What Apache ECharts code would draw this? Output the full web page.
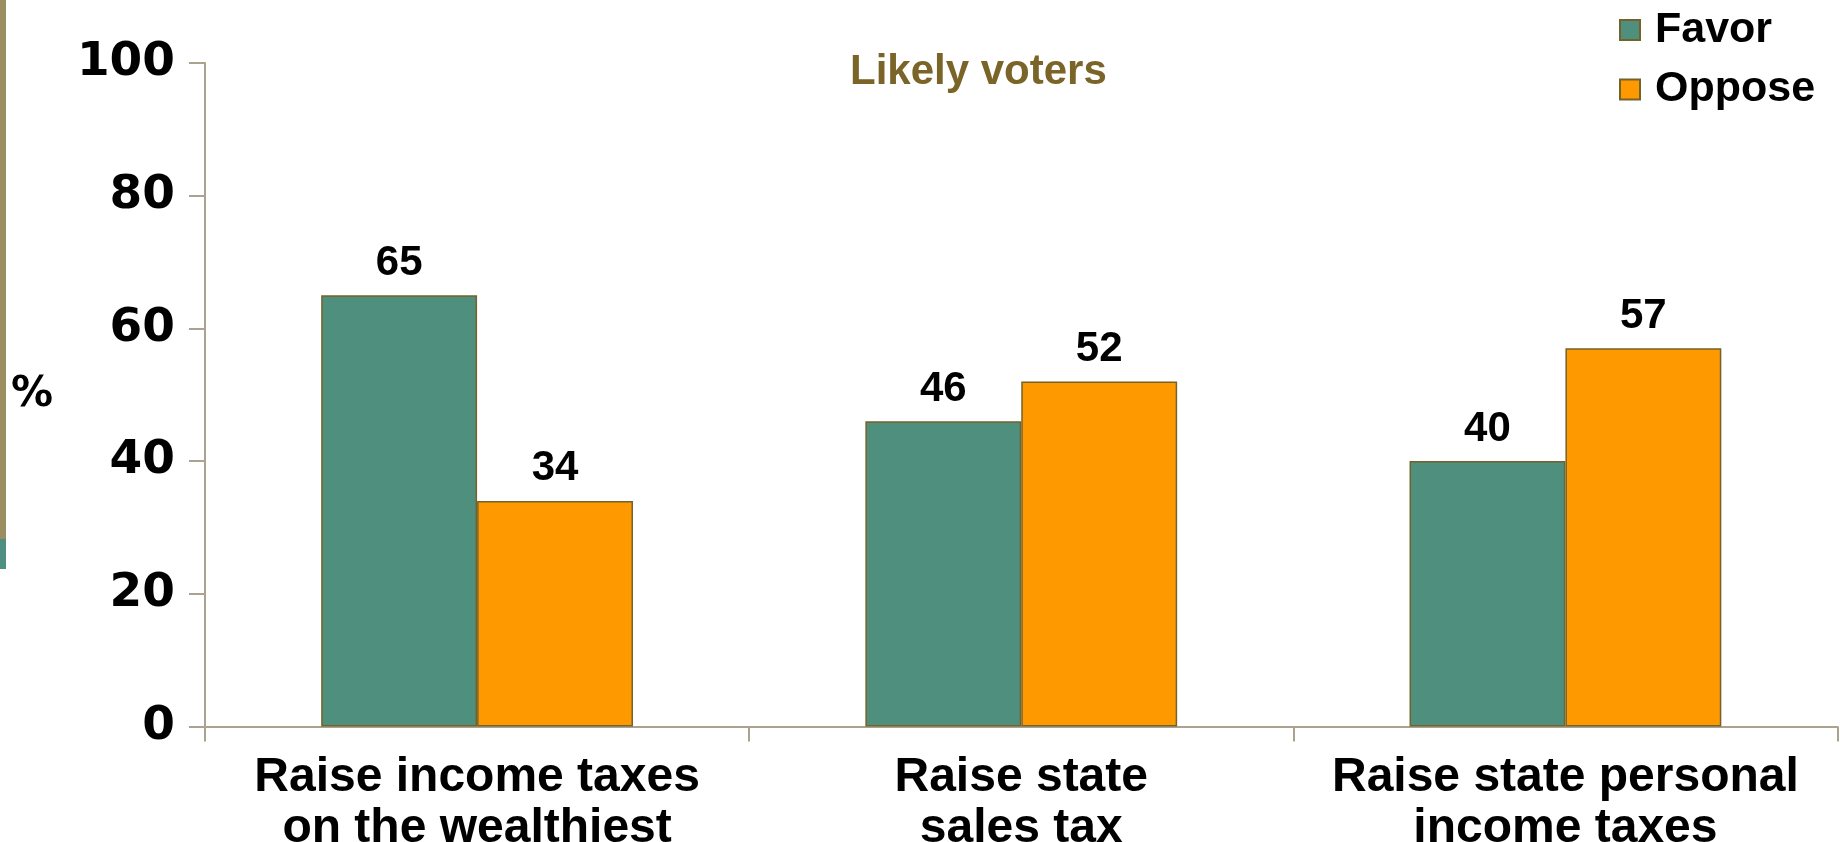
<!DOCTYPE html>
<html>
<head>
<meta charset="utf-8">
<script src="https://cdn.jsdelivr.net/npm/echarts@6/dist/echarts.min.js"></script>
<style>
html,body{margin:0;padding:0;background:#fff;}
#chart{width:1840px;height:842px;}
</style>
</head>
<body>
<div id="chart"></div>
<script>
const categories = ['Raise income taxes\non the wealthiest', 'Raise state\nsales tax', 'Raise state personal\nincome taxes'];
const seriesNames = ['Favor', 'Oppose'];
const favorValues = [65, 46, 40];
const opposeValues = [34, 52, 57];
const yTickValues = [0, 20, 40, 60, 80, 100];
const chartTitle = 'Likely voters';
const yAxisName = '%';

const chart = echarts.init(document.getElementById('chart'), null, {renderer: 'canvas'});
const axisColor = '#aba38f';
const borderCol = '#75622a';
const wideFont = 'DejaVu Sans';
const arialFont = 'Liberation Sans';

chart.setOption({
  animation: false,
  backgroundColor: '#ffffff',
  title: {
    text: chartTitle,
    left: 850, top: 51, padding: 0,
    textStyle: {fontFamily: arialFont, fontWeight: 'bold', fontSize: 42, color: '#7a6428'}
  },
  legend: {
    data: seriesNames,
    orient: 'vertical',
    left: 1614, top: 2,
    itemWidth: 20, itemHeight: 20, itemGap: 13.5,
    icon: 'rect',
    textStyle: {fontFamily: arialFont, fontWeight: 'bold', fontSize: 43, color: '#000', padding: [0, 0, 0, 10], lineHeight: 46}
  },
  graphic: [
    {type: 'rect', shape: {x: 0, y: 0, width: 6, height: 539}, style: {fill: '#9b8f62'}},
    {type: 'rect', shape: {x: 0, y: 539, width: 6, height: 30}, style: {fill: '#4f8f7f'}}
  ],
  grid: {left: 205, right: 2.5, top: 63, bottom: 115.5, containLabel: false, outerBoundsMode: 'none'},
  xAxis: {
    type: 'category',
    data: categories,
    axisLine: {lineStyle: {color: axisColor, width: 2}},
    axisTick: {show: true, length: 15, lineStyle: {color: axisColor, width: 2}},
    axisLabel: {interval: 0, margin: 26, fontFamily: arialFont, fontWeight: 'bold', fontSize: 48, lineHeight: 51, color: '#000'}
  },
  yAxis: {
    type: 'value',
    min: yTickValues[0], max: yTickValues[yTickValues.length - 1], interval: 20,
    name: yAxisName,
    nameLocation: 'middle', nameRotate: 0, nameGap: 152,
    nameTextStyle: {fontFamily: wideFont, fontWeight: 'bold', fontSize: 42, color: '#000', padding: [16, 0, 0, 0]},
    axisLine: {show: true, lineStyle: {color: axisColor, width: 2}},
    axisTick: {show: true, length: 16, lineStyle: {color: axisColor, width: 2}},
    splitLine: {show: false},
    axisLabel: {margin: 30, fontFamily: wideFont, fontWeight: 'bold', fontSize: 47, color: '#000'}
  },
  series: [
    {
      name: seriesNames[0], type: 'bar', data: favorValues,
      barGap: '0%', barCategoryGap: '42.7%',
      itemStyle: {color: '#4f8f7e', borderColor: borderCol, borderWidth: 1.5},
      label: {show: true, position: 'top', distance: 11, fontFamily: arialFont, fontWeight: 'bold', fontSize: 42, color: '#000'}
    },
    {
      name: seriesNames[1], type: 'bar', data: opposeValues,
      barGap: '0%', barCategoryGap: '42.7%',
      itemStyle: {color: '#ff9900', borderColor: borderCol, borderWidth: 1.5},
      label: {show: true, position: 'top', distance: 11, fontFamily: arialFont, fontWeight: 'bold', fontSize: 42, color: '#000'}
    }
  ]
});
</script>
</body>
</html>
